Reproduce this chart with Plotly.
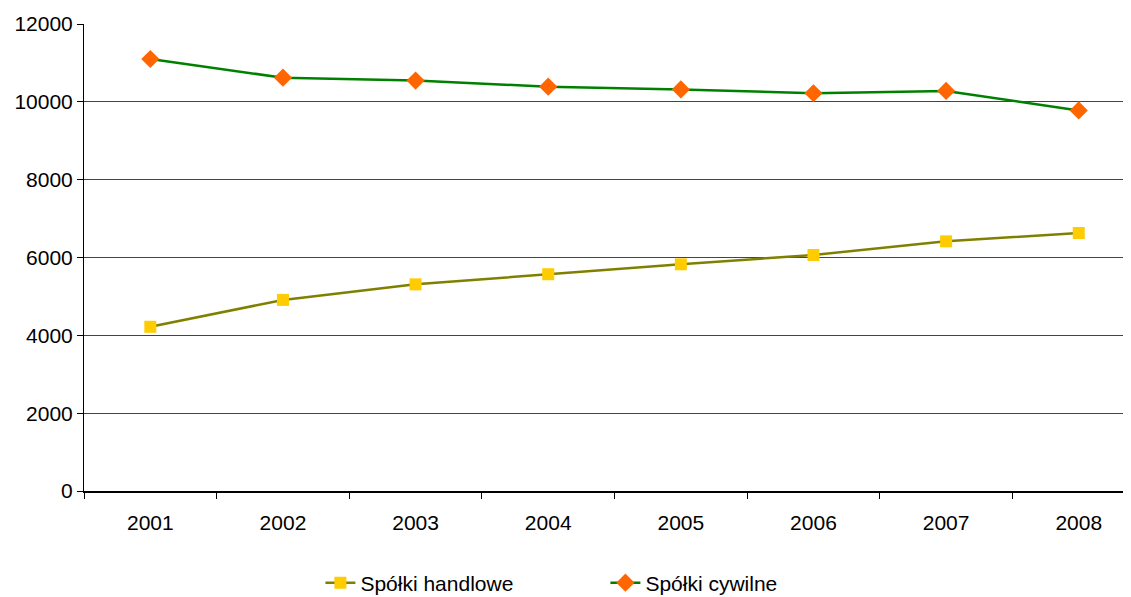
import plotly.graph_objects as go

years = ["2001", "2002", "2003", "2004", "2005", "2006", "2007", "2008"]
handlowe = [4220, 4910, 5310, 5570, 5825, 6065, 6415, 6630]
cywilne = [11100, 10620, 10545, 10390, 10320, 10220, 10280, 9780]
y_ticks = [0, 2000, 4000, 6000, 8000, 10000, 12000]

font = dict(family="Liberation Sans, Arial, sans-serif", size=21, color="#000000")

fig = go.Figure()
fig.add_trace(go.Scatter(
    x=years, y=handlowe, name="Spółki handlowe", mode="lines+markers",
    line=dict(color="#808000", width=2.5),
    marker=dict(symbol="square", size=12, color="#FFCC00", line=dict(width=0)),
))
fig.add_trace(go.Scatter(
    x=years, y=cywilne, name="Spółki cywilne", mode="lines+markers",
    line=dict(color="#008000", width=2.5),
    marker=dict(symbol="diamond", size=14, color="#FF6600", line=dict(width=0)),
))

fig.update_layout(
    width=1131, height=597,
    margin=dict(l=76, r=8, t=16, b=114, autoexpand=False),
    paper_bgcolor="white", plot_bgcolor="white",
    font=font,
    showlegend=True,
    legend=dict(orientation="h", x=0.498, xanchor="center", y=-0.197, yanchor="middle",
                entrywidth=240, entrywidthmode="pixels", font=font,
                traceorder="normal"),
    xaxis=dict(type="category", range=[-0.5, 7.394], tickson="boundaries",
               ticks="outside", ticklen=6, tickcolor="#000000",
               showline=True, linecolor="#000000", linewidth=1.5,
               showgrid=False, zeroline=False, tickfont=font, ticklabelstandoff=12),
    yaxis=dict(range=[0, 12000], tickvals=y_ticks, ticktext=[str(v) for v in y_ticks],
               ticks="outside", ticklen=6, tickcolor="#000000",
               showline=True, linecolor="#000000", linewidth=1,
               showgrid=True, gridcolor="#444444", gridwidth=1,
               zeroline=False, tickfont=font),
)

fig.write_html("out.html")
